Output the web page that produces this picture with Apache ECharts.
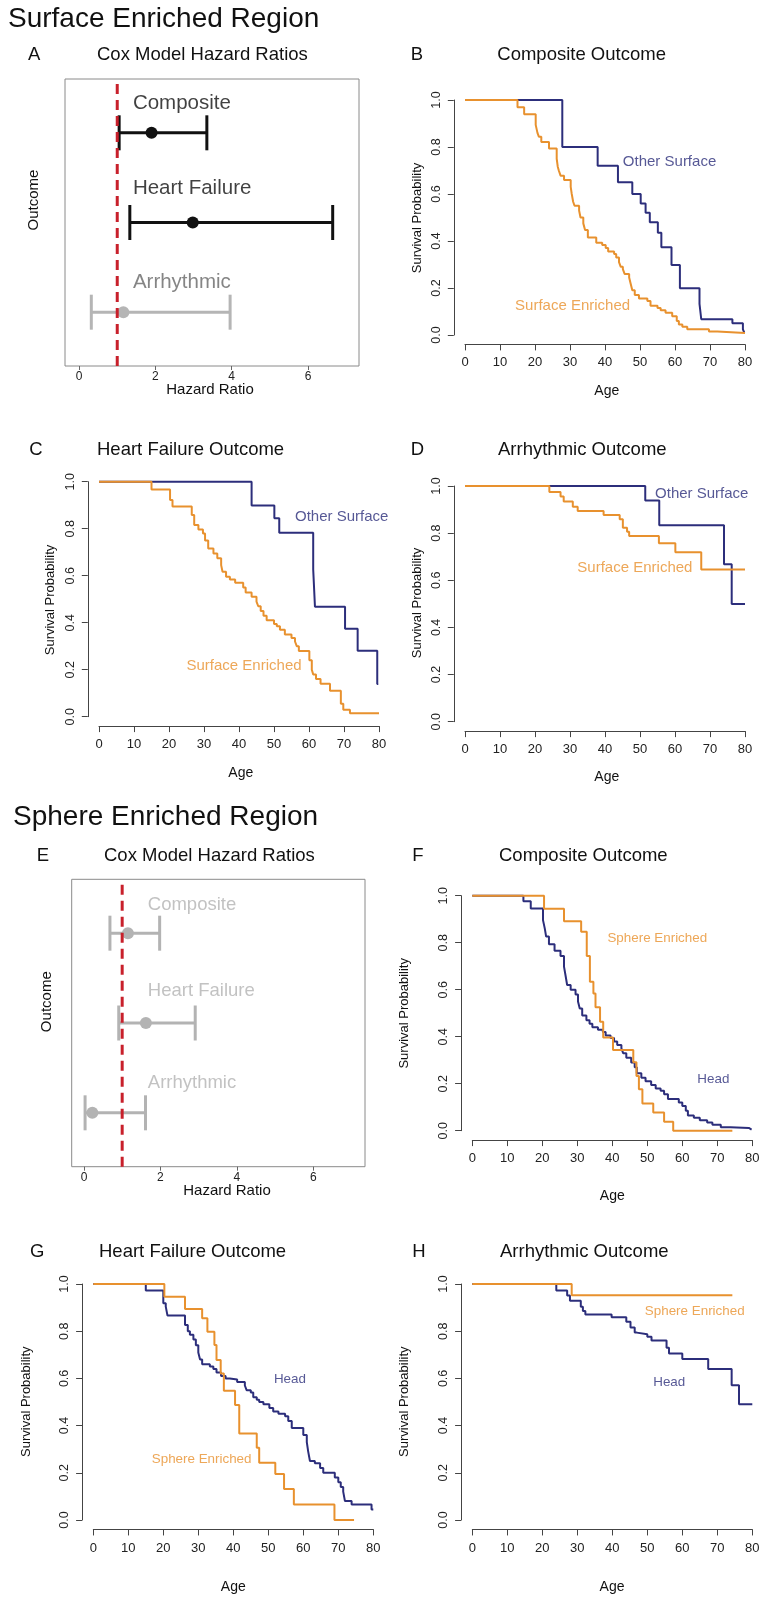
<!DOCTYPE html>
<html><head><meta charset="utf-8">
<script src="https://cdn.jsdelivr.net/npm/echarts@6/dist/echarts.min.js"></script>
<style>html,body{margin:0;padding:0;background:#fff}#c{width:768px;height:1602px}</style>
</head><body><div id="c"></div>
<script>
const NAVY = '#2c2e7b', ORANGE = '#e8912e', RED = '#c8202b', GRAY = '#b3b3b3';
const FONT = "'Liberation Sans', Arial, Helvetica, sans-serif";

// ---------- Forest plot data ----------
const outcomes = ['Composite', 'Heart Failure', 'Arrhythmic'];
const outcomeY = [3, 2, 1];
const aHR = [1.90, 2.98, 1.16];
const aLo = [1.05, 1.33, 0.32];
const aHi = [3.35, 6.65, 3.96];
const eHR = [1.15, 1.62, 0.22];
const eLo = [0.68, 0.91, 0.03];
const eHi = [1.98, 2.91, 1.61];
const hrTickLabels = ['0', '2', '4', '6'];
const ageTickLabels = ['0', '10', '20', '30', '40', '50', '60', '70', '80'];
const probTickLabels = ['0.0', '0.2', '0.4', '0.6', '0.8', '1.0'];

// ---------- Kaplan-Meier data (age, survival) ----------
const bOtherT = [0, 27.8, 37.9, 43.7, 47.8, 50.2, 51.6, 52.8, 55.1, 56.1, 59.0, 61.4, 67.0, 67.5, 76.4, 79.4, 79.8];
const bOtherS = [1, 0.80, 0.72, 0.65, 0.60, 0.56, 0.52, 0.48, 0.435, 0.373, 0.298, 0.199, 0.132, 0.067, 0.05, 0.024, 0.01];
const bSurfT = [0, 15.0, 16.9, 20.2, 20.7, 21.1, 21.8, 24.0, 26.2, 26.5, 26.8, 27.3, 28.3, 30.2, 30.5, 30.9, 31.3, 32.6, 33.0, 33.8, 34.3, 35.1, 37.5, 39.2, 40.2, 40.9, 42.6, 43.2, 44.0, 44.5, 45.1, 45.6, 46.9, 47.3, 47.8, 48.5, 49.7, 52.1, 53.0, 55.0, 55.9, 57.3, 59.2, 60.5, 61.1, 62.1, 63.5, 69.7, 72.1, 80];
const bSurfS = [1, 0.969, 0.939, 0.894, 0.86, 0.844, 0.821, 0.794, 0.75, 0.716, 0.70, 0.678, 0.66, 0.63, 0.60, 0.567, 0.55, 0.53, 0.50, 0.475, 0.447, 0.415, 0.393, 0.383, 0.37, 0.355, 0.345, 0.33, 0.31, 0.29, 0.28, 0.26, 0.245, 0.22, 0.19, 0.17, 0.155, 0.145, 0.125, 0.115, 0.105, 0.095, 0.08, 0.06, 0.045, 0.035, 0.025, 0.015, 0.008, 0.008];

const cOtherT = [0, 43.6, 50.1, 51.5, 61.2, 61.7, 70.3, 73.9, 79.5, 79.8];
const cOtherS = [1, 0.899, 0.845, 0.783, 0.627, 0.468, 0.374, 0.281, 0.139, 0.139];
const cSurfT = [0, 15.0, 20.3, 21.0, 26.5, 27.2, 28.4, 29.7, 30.3, 31.2, 32.7, 33.8, 34.9, 35.3, 36.3, 37.4, 38.9, 41.2, 41.9, 43.6, 45.0, 45.5, 46.2, 47.0, 47.9, 50.0, 50.8, 51.7, 53.1, 55.0, 56.0, 56.5, 57.1, 60.1, 60.8, 61.2, 62.0, 63.3, 66.0, 69.1, 69.8, 71.7, 80];
const cSurfS = [1, 0.967, 0.922, 0.894, 0.858, 0.816, 0.797, 0.78, 0.75, 0.716, 0.695, 0.674, 0.645, 0.617, 0.596, 0.584, 0.57, 0.55, 0.528, 0.51, 0.49, 0.47, 0.45, 0.43, 0.41, 0.395, 0.385, 0.37, 0.35, 0.335, 0.32, 0.30, 0.28, 0.24, 0.20, 0.18, 0.16, 0.14, 0.11, 0.055, 0.03, 0.015, 0.015];

const dOtherT = [0, 51.5, 55.5, 74.0, 76.2, 80];
const dOtherS = [1, 0.938, 0.833, 0.668, 0.499, 0.499];
const dSurfT = [0, 24.1, 27.3, 28.2, 30.8, 32.2, 39.6, 44.2, 45.1, 46.3, 46.9, 55.4, 60.1, 67.5, 80];
const dSurfS = [1, 0.975, 0.955, 0.934, 0.912, 0.894, 0.877, 0.859, 0.823, 0.806, 0.788, 0.757, 0.719, 0.646, 0.646];

const fSphT = [0, 20.5, 26.2, 31.1, 32.7, 33.6, 34.6, 35.2, 36.5, 37.4, 40.2, 46.0, 46.9, 47.6, 48.6, 51.7, 54.8, 57.4, 74.3];
const fSphS = [1, 0.945, 0.891, 0.847, 0.743, 0.634, 0.584, 0.525, 0.464, 0.397, 0.343, 0.291, 0.233, 0.176, 0.116, 0.077, 0.038, 0.0, 0.0];
const fHeadT = [0, 14.6, 16.7, 20.2, 20.7, 21.1, 21.9, 23.5, 25.2, 26.2, 26.7, 27.1, 28.1, 29.5, 30.2, 30.7, 31.4, 32.6, 33.5, 34.3, 35.9, 37.3, 38.1, 39.5, 40.5, 41.4, 42.6, 43.1, 44.0, 45.4, 46.4, 47.0, 48.3, 49.5, 51.1, 52.4, 53.8, 54.8, 55.9, 59.0, 60.0, 61.0, 61.6, 63.3, 65.0, 67.1, 68.6, 71.0, 73.8, 79.0, 79.8];
const fHeadS = [1, 0.976, 0.946, 0.896, 0.861, 0.826, 0.793, 0.766, 0.743, 0.698, 0.655, 0.62, 0.60, 0.58, 0.55, 0.52, 0.49, 0.47, 0.455, 0.44, 0.43, 0.42, 0.405, 0.395, 0.38, 0.365, 0.35, 0.33, 0.31, 0.29, 0.27, 0.245, 0.225, 0.21, 0.195, 0.18, 0.17, 0.155, 0.135, 0.12, 0.105, 0.085, 0.065, 0.055, 0.045, 0.035, 0.025, 0.015, 0.012, 0.005, 0.002];

const gSphT = [0, 20.3, 26.2, 31.1, 32.6, 34.6, 35.2, 36.4, 37.3, 40.5, 41.7, 46.7, 47.4, 52.0, 54.5, 57.3, 68.9, 74.5];
const gSphS = [1, 0.946, 0.894, 0.855, 0.798, 0.742, 0.678, 0.621, 0.548, 0.487, 0.367, 0.306, 0.243, 0.195, 0.131, 0.066, 0.0, 0.0];
const gHeadT = [0, 15.0, 20.0, 20.7, 21.2, 26.2, 27.0, 27.6, 28.6, 29.3, 30.0, 30.5, 31.1, 33.3, 34.3, 35.2, 36.5, 37.8, 39.0, 41.1, 43.3, 43.8, 45.0, 45.7, 46.7, 47.4, 48.6, 50.3, 51.4, 52.9, 54.8, 55.7, 56.7, 60.0, 61.0, 61.4, 61.9, 63.3, 64.8, 65.7, 69.0, 70.0, 70.7, 71.4, 71.9, 73.8, 79.5, 80];
const gHeadS = [1, 0.972, 0.918, 0.904, 0.866, 0.826, 0.80, 0.785, 0.765, 0.74, 0.71, 0.68, 0.66, 0.65, 0.64, 0.625, 0.61, 0.60, 0.595, 0.585, 0.57, 0.55, 0.54, 0.52, 0.51, 0.50, 0.49, 0.475, 0.46, 0.45, 0.44, 0.42, 0.39, 0.36, 0.33, 0.29, 0.25, 0.24, 0.22, 0.20, 0.18, 0.16, 0.14, 0.12, 0.08, 0.066, 0.045, 0.045];

const hSphT = [0, 28.4, 74.3];
const hSphS = [1, 0.952, 0.952];
const hHeadT = [0, 24.0, 27.1, 27.9, 31.0, 31.6, 32.3, 39.8, 44.0, 45.2, 46.4, 47.0, 50.0, 51.2, 55.5, 56.2, 60.0, 67.4, 74.1, 76.2, 80];
const hHeadS = [1, 0.972, 0.951, 0.929, 0.904, 0.886, 0.871, 0.859, 0.840, 0.816, 0.794, 0.787, 0.777, 0.761, 0.730, 0.706, 0.682, 0.640, 0.571, 0.490, 0.490];

// ---------- build ----------
const grids = [], xAxes = [], yAxes = [], series = [], graphics = [];
function addGrid(left, top, width, height, extra) {
  grids.push(Object.assign({left, top, width, height, containLabel: false, outerBoundsMode: 'none'}, extra || {}));
  return grids.length - 1;
}
const hidden = (gi, min, max) => ({gridIndex: gi, type: 'value', min, max, show: false});
const axisLineStyle = {color: '#444', width: 1};
const zip = (t, s) => t.map((v, i) => [v, s[i]]);

function txt(text, x, y, size, o) {
  o = o || {};
  graphics.push({
    type: 'text', x, y, rotation: o.rot || 0, silent: true, z: 100,
    style: {text, fontSize: size, fontFamily: FONT, fill: o.color || '#111',
      align: o.align || 'left', textAlign: o.align || 'left',
      verticalAlign: 'middle', textVerticalAlign: 'middle'}
  });
}

function addKM(p) {
  const k = 3.5, ky = p.y0 - p.y1;
  const left = p.x0 - 3.2 * k, top = p.y1 - 0.04 * ky, width = 86.4 * k, height = 1.08 * ky;
  const gi = addGrid(left, top, width, height);
  xAxes.push(hidden(gi, -3.2, 83.2));
  yAxes.push(hidden(gi, -0.04, 1.04));
  // x axis (0..80)
  const gx = addGrid(p.x0, top, 80 * k, height);
  xAxes.push({gridIndex: gx, type: 'value', min: 0, max: 80, interval: 10, position: 'bottom',
    axisLine: {show: true, lineStyle: axisLineStyle},
    axisTick: {show: true, inside: false, length: 6, lineStyle: axisLineStyle},
    axisLabel: {show: true, margin: 12, fontSize: 13, color: '#222', fontFamily: FONT, hideOverlap: false,
      showMinLabel: true, showMaxLabel: true,
      formatter: v => ageTickLabels[Math.round(v / 10)]},
    splitLine: {show: false}});
  yAxes.push(hidden(gx, 0, 1));
  // y axis (0..1)
  const gy = addGrid(left, p.y1, width, ky);
  xAxes.push(hidden(gy, 0, 1));
  yAxes.push({gridIndex: gy, type: 'value', min: 0, max: 1, interval: 0.2, position: 'left',
    axisLine: {show: true, lineStyle: axisLineStyle},
    axisTick: {show: true, inside: false, length: 6, lineStyle: axisLineStyle},
    axisLabel: {show: true, rotate: 90, margin: 11, fontSize: 12.5, color: '#222', fontFamily: FONT, hideOverlap: false,
      showMinLabel: true, showMaxLabel: true,
      formatter: v => probTickLabels[Math.round(v / 0.2)]},
    splitLine: {show: false}});
  p.curves.forEach(c => {
    series.push({type: 'line', xAxisIndex: gi, yAxisIndex: gi, step: 'end', symbol: 'none', showSymbol: false,
      silent: true, animation: false, lineStyle: {color: c[2], width: 2}, itemStyle: {color: c[2]},
      data: zip(c[0], c[1]), z: 3});
  });
  p.labels.forEach(l => {
    series.push({type: 'scatter', xAxisIndex: gi, yAxisIndex: gi, symbolSize: 0, silent: true, animation: false,
      data: [[l[1], l[2]]],
      label: {show: true, position: 'right', distance: 0, formatter: l[0], color: l[3], fontSize: l[4], fontFamily: FONT}});
  });
}

function addForest(p) {
  const gi = addGrid(p.left, p.top, p.width, p.height, {show: true, borderColor: '#8a8a8a', borderWidth: 1, backgroundColor: 'transparent'});
  xAxes.push(hidden(gi, p.xmin, p.xmax));
  yAxes.push(hidden(gi, 0.4, 3.6));
  const gt = addGrid(p.x0px, p.top, p.x6px - p.x0px, p.height);
  xAxes.push({gridIndex: gt, type: 'value', min: 0, max: 6, interval: 2, position: 'bottom',
    axisLine: {show: false},
    axisTick: {show: true, inside: false, length: 4, lineStyle: {color: '#666', width: 1}},
    axisLabel: {show: true, margin: 5, fontSize: 12, color: '#222', fontFamily: FONT,
      showMinLabel: true, showMaxLabel: true,
      formatter: v => hrTickLabels[Math.round(v / 2)]},
    splitLine: {show: false}});
  yAxes.push(hidden(gt, 0, 1));
  const colors = p.colors;
  series.push({type: 'custom', xAxisIndex: gi, yAxisIndex: gi, silent: true, animation: false, z: 3,
    data: outcomes.map((o, i) => [p.lo[i], p.hi[i], p.hr[i], outcomeY[i], i]),
    renderItem: function (params, api) {
      const y = api.value(3);
      const lo = api.coord([api.value(0), y]);
      const hi = api.coord([api.value(1), y]);
      const md = api.coord([api.value(2), y]);
      const c = colors[api.value(4)];
      const h = 17.5;
      const ls = {stroke: c, lineWidth: 3};
      return {type: 'group', children: [
        {type: 'line', shape: {x1: lo[0], y1: lo[1], x2: hi[0], y2: hi[1]}, style: ls},
        {type: 'line', shape: {x1: lo[0], y1: lo[1] - h, x2: lo[0], y2: lo[1] + h}, style: ls},
        {type: 'line', shape: {x1: hi[0], y1: hi[1] - h, x2: hi[0], y2: hi[1] + h}, style: ls},
        {type: 'circle', shape: {cx: md[0], cy: md[1], r: 6}, style: {fill: c}}
      ]};
    }});
  series.push({type: 'line', xAxisIndex: gi, yAxisIndex: gi, symbol: 'none', silent: true, animation: false, z: 4,
    lineStyle: {color: RED, width: 3, type: [10, 6]},
    data: [[1, 0.4], [1, 3.6]]});
  outcomes.forEach((o, i) => {
    series.push({type: 'scatter', xAxisIndex: gi, yAxisIndex: gi, symbolSize: 0, silent: true, animation: false,
      data: [[p.labelX, p.labelY[i]]],
      label: {show: true, position: 'right', distance: 0, formatter: o, color: p.labelColors[i], fontSize: p.labelSize, fontFamily: FONT}});
  });
}

// Panel A
addForest({left: 65, top: 79, width: 294, height: 287, xmin: -0.37, xmax: 7.34, x0px: 79, x6px: 308,
  hr: aHR, lo: aLo, hi: aHi, colors: ['#111', '#111', '#b5b5b5'], labelColors: ['#111', '#111', '#666'],
  labelX: 1.41, labelY: [3.33, 2.38, 1.33], labelSize: 20.5});
// Panel E
addForest({left: 71.7, top: 879.3, width: 293.3, height: 287.4, xmin: -0.32, xmax: 7.35, x0px: 84, x6px: 313.3,
  hr: eHR, lo: eLo, hi: eHi, colors: [GRAY, GRAY, GRAY], labelColors: [GRAY, GRAY, GRAY],
  labelX: 1.67, labelY: [3.32, 2.36, 1.33], labelSize: 18.5});

addKM({x0: 465, y1: 100, y0: 335, curves: [[bOtherT, bOtherS, NAVY], [bSurfT, bSurfS, ORANGE]],
  labels: [['Other Surface', 45.1, 0.737, NAVY, 15], ['Surface Enriched', 14.3, 0.123, ORANGE, 15]]});
addKM({x0: 99, y1: 481.7, y0: 716.7, curves: [[cOtherT, cOtherS, NAVY], [cSurfT, cSurfS, ORANGE]],
  labels: [['Other Surface', 56, 0.851, NAVY, 15], ['Surface Enriched', 25.0, 0.217, ORANGE, 15]]});
addKM({x0: 465, y1: 486, y0: 721.7, curves: [[dOtherT, dOtherS, NAVY], [dSurfT, dSurfS, ORANGE]],
  labels: [['Other Surface', 54.3, 0.966, NAVY, 15], ['Surface Enriched', 32.1, 0.651, ORANGE, 15]]});
addKM({x0: 472.3, y1: 895.7, y0: 1130.7, curves: [[fHeadT, fHeadS, NAVY], [fSphT, fSphS, ORANGE]],
  labels: [['Sphere Enriched', 38.6, 0.819, ORANGE, 13.4], ['Head', 64.3, 0.219, NAVY, 13.4]]});
addKM({x0: 93.3, y1: 1284, y0: 1520, curves: [[gHeadT, gHeadS, NAVY], [gSphT, gSphS, ORANGE]],
  labels: [['Head', 51.6, 0.597, NAVY, 13.4], ['Sphere Enriched', 16.7, 0.258, ORANGE, 13.4]]});
addKM({x0: 472.3, y1: 1284, y0: 1520, curves: [[hHeadT, hHeadS, NAVY], [hSphT, hSphS, ORANGE]],
  labels: [['Sphere Enriched', 49.3, 0.886, ORANGE, 13.4], ['Head', 51.7, 0.582, NAVY, 13.4]]});

// Texts
txt('Surface Enriched Region', 8, 19.5, 28);
txt('Sphere Enriched Region', 13, 817, 28);
[['A', 28, 55], ['B', 410.7, 55], ['C', 29.3, 450], ['D', 410.7, 450],
 ['E', 36.7, 856], ['F', 412.3, 856], ['G', 30, 1252], ['H', 412.3, 1252]].forEach(l => txt(l[0], l[1], l[2], 18.5));
[['Cox Model Hazard Ratios', 97, 55], ['Composite Outcome', 497.3, 55],
 ['Heart Failure Outcome', 97, 450], ['Arrhythmic Outcome', 498, 450],
 ['Cox Model Hazard Ratios', 104, 856], ['Composite Outcome', 499, 856],
 ['Heart Failure Outcome', 99, 1252], ['Arrhythmic Outcome', 500, 1252]].forEach(l => txt(l[0], l[1], l[2], 18.5));
[[606.8, 391.3], [240.8, 773], [606.8, 776.7], [612.3, 1196], [233.3, 1586.7], [612, 1586.7]]
  .forEach(p => txt('Age', p[0], p[1], 14, {align: 'center'}));
[[417, 218], [50, 600], [417, 603], [404.7, 1013.3], [26, 1401.7], [404.8, 1401.7]]
  .forEach(p => txt('Survival Probability', p[0], p[1], 13, {align: 'center', rot: Math.PI / 2}));
txt('Hazard Ratio', 210, 390, 15, {align: 'center'});
txt('Hazard Ratio', 227, 1190.7, 15, {align: 'center'});
txt('Outcome', 33.5, 200, 15, {align: 'center', rot: Math.PI / 2});
txt('Outcome', 47, 1001.7, 15, {align: 'center', rot: Math.PI / 2});

const chart = echarts.init(document.getElementById('c'), null, {renderer: 'canvas', width: 768, height: 1602});
chart.setOption({
  backgroundColor: '#ffffff',
  animation: false,
  grid: grids, xAxis: xAxes, yAxis: yAxes, series: series, graphic: graphics
});
</script></body></html>
